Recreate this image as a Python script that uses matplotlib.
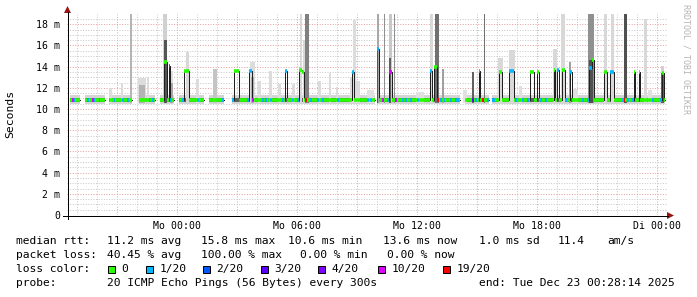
import numpy as np
import matplotlib.pyplot as plt
from matplotlib.collections import LineCollection
from matplotlib.patches import Rectangle, Polygon

# ==========================
# data (hours relative to Mo 00:00, values in ms)
# ==========================
T0 = -5.5            # left edge of graph (So 18:30)
STEP = 5 / 60        # smokeping step 300 s
N_STEPS = 360

BASE_MS = 10.85      # typical median

# periods with replies (gaps = 100 % loss)
seg_start = [-5.40, -4.60, -3.45, -1.95, -0.85, 0.05, 1.55, 2.75, 10.00, 14.35, 15.75]
seg_end = [-4.90, -3.60, -2.25, -1.10, -0.20, 1.30, 2.30, 9.85, 14.10, 15.55, 24.35]

# median plateaus: start, end, median, loss (pings lost of 20)
spike_t0 = [-0.65, -0.45, 0.35, 2.85, 3.57, 5.40, 6.10, 6.27, 8.73, 9.99, 10.58, 12.65, 12.85,
            15.10, 16.12, 16.62, 17.70, 17.98, 18.83, 19.00, 19.22, 19.63, 20.60, 20.75,
            21.33, 21.67, 22.87, 23.05, 24.22]
spike_t1 = [-0.52, -0.38, 0.60, 3.07, 3.73, 5.52, 6.22, 6.34, 8.85, 10.05, 10.72, 12.74, 12.97,
            15.15, 16.27, 16.80, 17.80, 18.10, 18.95, 19.08, 19.38, 19.70, 20.75, 20.85,
            21.50, 21.83, 22.95, 23.17, 24.35]
spike_ms = [14.4, 14.1, 13.6, 13.6, 13.6, 13.6, 13.7, 13.5, 13.5, 15.7, 13.5, 13.6, 14.0,
            13.6, 13.5, 13.6, 13.5, 13.5, 13.7, 13.7, 13.7, 13.5, 13.9, 14.6,
            13.5, 13.5, 13.5, 13.5, 13.4]
spike_loss = [0, 19, 0, 0, 1, 1, 0, 0, 1, 1, 10, 1, 0,
              1, 0, 1, 0, 0, 0, 1, 0, 1, 1, 0,
              0, 1, 0, 0, 0]

# loss of single steps on the baseline (everything else 0/20)
dot_t = [-5.40, -5.25, -5.10, -4.50, -4.10, -3.90, -3.35, -3.10, -2.70, -2.50, -1.35, -1.25,
         -0.27, 0.15, 0.32, 1.05, 2.25, 2.78, 3.15, 3.52, 4.30, 4.47, 4.72, 5.30, 5.80, 6.05,
         6.72, 7.05, 7.30, 8.05, 9.53, 9.70, 10.53, 11.28, 11.45, 11.70, 12.03, 13.20, 13.35,
         13.70, 13.92, 14.05, 14.93, 15.52, 15.77, 15.85, 16.93, 17.27, 17.52, 18.18, 18.43,
         19.42, 20.25, 20.50, 22.25, 22.55, 22.75, 23.75, 24.17,
         -5.17, -4.22, 3.78, 10.28, 10.92,
         6.47, 13.03, 15.27, 22.39,
         14.79]
dot_loss = [1] * 59 + [10] * 5 + [19] * 4 + [3]

# smoke (ping spread) above the baseline: start, end, top, grey
smoke_t0 = [-3.40, -2.80, -2.33, -1.95, -1.90, -1.50, -0.70, -0.65, -0.35, -0.33, 0.45, 0.95,
            1.80, 3.65, 3.68, 4.05, 4.60, 5.05, 5.75, 6.13, 6.30, 6.38, 7.05, 7.60, 7.95,
            8.65, 8.80, 8.95, 9.50, 9.98, 9.98, 10.35, 10.58, 10.60, 10.83, 11.95, 12.65,
            12.90, 13.25, 14.30, 14.73, 15.33, 16.05, 16.60, 17.10, 18.80, 19.20, 19.60,
            19.80, 20.55, 20.60, 21.35, 21.70, 22.35, 23.33, 23.55, 24.22, 24.22]
smoke_t1 = [-3.25, -2.70, -2.25, -1.55, -1.60, -1.40, -0.50, -0.50, -0.20, -0.22, 0.60, 1.10,
            2.00, 3.90, 3.85, 4.20, 4.75, 5.20, 5.90, 6.27, 6.40, 6.58, 7.20, 7.70, 8.05,
            8.80, 8.95, 9.15, 9.85, 10.10, 10.05, 10.40, 10.75, 10.72, 10.90, 12.35, 12.80,
            13.10, 13.35, 14.50, 14.85, 15.40, 16.30, 16.90, 17.25, 19.00, 19.38, 19.70,
            20.05, 20.85, 20.80, 21.50, 21.85, 22.50, 23.50, 23.75, 24.35, 24.35]
smoke_top = [12.0, 12.5, 19.0, 12.9, 12.3, 13.05, 19.0, 16.5, 13.6, 12.5, 15.4, 12.8,
             13.8, 14.4, 13.0, 12.6, 13.6, 12.4, 12.4, 19.0, 16.5, 19.0, 12.6, 13.4, 12.1,
             13.0, 18.4, 12.6, 11.8, 19.0, 15.7, 19.0, 19.0, 14.8, 19.0, 11.6, 19.0,
             19.0, 13.8, 11.8, 13.5, 19.0, 14.8, 15.6, 12.2, 15.7, 19.0, 14.4,
             11.9, 19.0, 14.6, 19.0, 19.0, 19.0, 18.5, 11.8, 14.1, 13.4]
smoke_grey = ['#dcdcdc', '#dcdcdc', '#b4b4b4', '#dcdcdc', '#b4b4b4', '#dcdcdc', '#d0d0d0',
              '#555555', '#dcdcdc', '#a8a8a8', '#d8d8d8', '#dcdcdc',
              '#c4c4c4', '#dcdcdc', '#b0b0b0', '#dcdcdc', '#dcdcdc', '#dcdcdc', '#dcdcdc',
              '#d8d8d8', '#d8d8d8', '#808080', '#dcdcdc', '#dcdcdc', '#dcdcdc',
              '#dcdcdc', '#dcdcdc', '#dcdcdc', '#e0e0e0', '#a8a8a8', '#555555', '#909090',
              '#c8c8c8', '#606060', '#909090', '#e0e0e0', '#d8d8d8',
              '#707070', '#a0a0a0', '#e0e0e0', '#606060', '#707070', '#d8d8d8', '#d8d8d8',
              '#e0e0e0', '#d8d8d8', '#d8d8d8', '#a0a0a0',
              '#e0e0e0', '#909090', '#505050', '#d8d8d8', '#d8d8d8', '#505050', '#d8d8d8',
              '#e0e0e0', '#d0d0d0', '#606060']

LOSS_COLORS = {0: '#26ff00', 1: '#00b8ff', 2: '#0059ff', 3: '#5e00ff',
               4: '#7e00ff', 10: '#dd00ff', 19: '#ff0000'}

x_ticks = [0, 6, 12, 18, 24]
x_labels = ['Mo 00:00', 'Mo 06:00', 'Mo 12:00', 'Mo 18:00', 'Di 00:00']
y_ticks = [0, 2, 4, 6, 8, 10, 12, 14, 16, 18]
y_labels = ['0'] + [f'{v} m' for v in y_ticks[1:]]

MONO = 'DejaVu Sans Mono'

# ==========================
# build step series
# ==========================
t = T0 + np.arange(N_STEPS) * STEP
present = np.zeros(N_STEPS, dtype=bool)
for s, e in zip(seg_start, seg_end):
    present |= (t >= s - 1e-9) & (t < e)

med = np.where(present, BASE_MS, np.nan)
loss = np.zeros(N_STEPS, dtype=int)
for h, code in zip(dot_t, dot_loss):
    i = int(np.floor((h - T0) / STEP))
    loss[i] = code
for h0, h1, v, code in zip(spike_t0, spike_t1, spike_ms, spike_loss):
    i0 = int(np.floor((h0 - T0) / STEP + 0.5))
    i1 = max(i0 + 1, int(np.floor((h1 - T0) / STEP + 0.5)))
    med[i0:i1] = v
    loss[i0:i1] = code

# ==========================
# figure
# ==========================
W, H = 697, 297
fig = plt.figure(figsize=(W / 100, H / 100), dpi=100)
fig.patch.set_facecolor('white')

ax = fig.add_axes([67 / W, 1 - 215 / H, 600 / W, (215 - 13.6) / H])
ax.set_xlim(T0, T0 + N_STEPS * STEP)
ax.set_ylim(0, 19)
for sp in ax.spines.values():
    sp.set_visible(False)

# grid (rrdtool style dotted)
px = 0.72
for h in np.arange(-5, 25, 1):
    major = (h % 3 == 0)
    ax.axvline(h, color='#e8a0a0' if major else '#c8c8c8', lw=px,
               dashes=(1.0, 1.6), zorder=0)
for v in np.arange(0.5, 19, 0.5):
    major = (v % 2 == 0)
    ax.axhline(v, color='#e8a0a0' if major else '#c8c8c8', lw=px,
               dashes=(1.0, 1.6), zorder=0)

# baseline smoke
ts = t[present]
ax.bar(ts, 0.85, width=STEP, bottom=10.45, align='edge', color='#d4d4d4', lw=0, zorder=1)
ax.bar(ts, 0.40, width=STEP, bottom=10.62, align='edge', color='#606060', lw=0, zorder=1)

# tall smoke
for h0, h1, top, g in zip(smoke_t0, smoke_t1, smoke_top, smoke_grey):
    ax.bar(h0, top - 10.6, width=h1 - h0, bottom=10.6, align='edge', color=g, lw=0, zorder=2)

# median line
ax.step(np.append(t, t[-1] + STEP), np.append(med, med[-1]), where='post',
        color='#202020', lw=px, zorder=3)

# loss coloured median
segs, cols = [], []
for i in range(N_STEPS):
    if present[i]:
        segs.append([(t[i], med[i]), (t[i] + STEP, med[i])])
        cols.append(LOSS_COLORS[loss[i]])
ax.add_collection(LineCollection(segs, colors=cols, linewidths=3.6 * px,
                                 capstyle='butt', zorder=4))

ax.set_xticks(x_ticks)
ax.set_xticklabels(x_labels, family=MONO, fontsize=7.1)
ax.set_yticks(y_ticks)
ax.set_yticklabels(y_labels, family=MONO, fontsize=7.1)
ax.tick_params(length=0, axis='y', pad=5)
ax.tick_params(length=0, axis='x', pad=4)

# ==========================
# decorations and legend (pixel coordinates)
# ==========================
lax = fig.add_axes([0, 0, 1, 1])
lax.set_xlim(0, W)
lax.set_ylim(H, 0)
lax.axis('off')
lax.patch.set_visible(False)

lax.plot([63, 668], [215.5, 215.5], color='black', lw=px)
lax.plot([67.5, 67.5], [219, 12], color='black', lw=px)
lax.add_patch(Polygon([(667, 212), (674, 215.5), (667, 219)], closed=True, color='#9a1414', lw=0))
lax.add_patch(Polygon([(64, 13), (67.5, 6), (71, 13)], closed=True, color='#9a1414', lw=0))

lax.text(10, 114, 'Seconds', rotation=90, ha='center', va='center', family=MONO, fontsize=8.2)
lax.text(686, 4, 'RRDTOOL / TOBI OETIKER', rotation=270, ha='center', va='top',
         family=MONO, fontsize=6, color='#b4b4b4')

FS = 8.1
row1 = [(16, 'median rtt:'), (107, '11.2 ms avg'), (201, '15.8 ms max'), (288, '10.6 ms min'),
        (383, '13.6 ms now'), (479, '1.0 ms sd'), (558, '11.4'), (607, 'am/s')]
row2 = [(16, 'packet loss:'), (107, '40.45 % avg'), (201, '100.00 % max'), (300, '0.00 % min'),
        (387, '0.00 % now')]
row4 = [(16, 'probe:'), (107, '20 ICMP Echo Pings (56 Bytes) every 300s'),
        (479, 'end: Tue Dec 23 00:28:14 2025')]
for y, row in [(241, row1), (255, row2), (283, row4)]:
    for x, s in row:
        lax.text(x, y, s, ha='left', va='center', family=MONO, fontsize=FS)

lax.text(16, 269, 'loss color:', ha='left', va='center', family=MONO, fontsize=FS)
box_x = [108, 146, 203, 261, 318, 378, 443]
box_lab = ['0', '1/20', '2/20', '3/20', '4/20', '10/20', '19/20']
box_code = [0, 1, 2, 3, 4, 10, 19]
for bx, lab, code in zip(box_x, box_lab, box_code):
    lax.add_patch(Rectangle((bx, 265.5), 7, 7, facecolor=LOSS_COLORS[code],
                            edgecolor='black', lw=px))
    lax.text(bx + 13.5, 269, lab, ha='left', va='center', family=MONO, fontsize=FS)

fig.savefig('out.png', dpi=100)
